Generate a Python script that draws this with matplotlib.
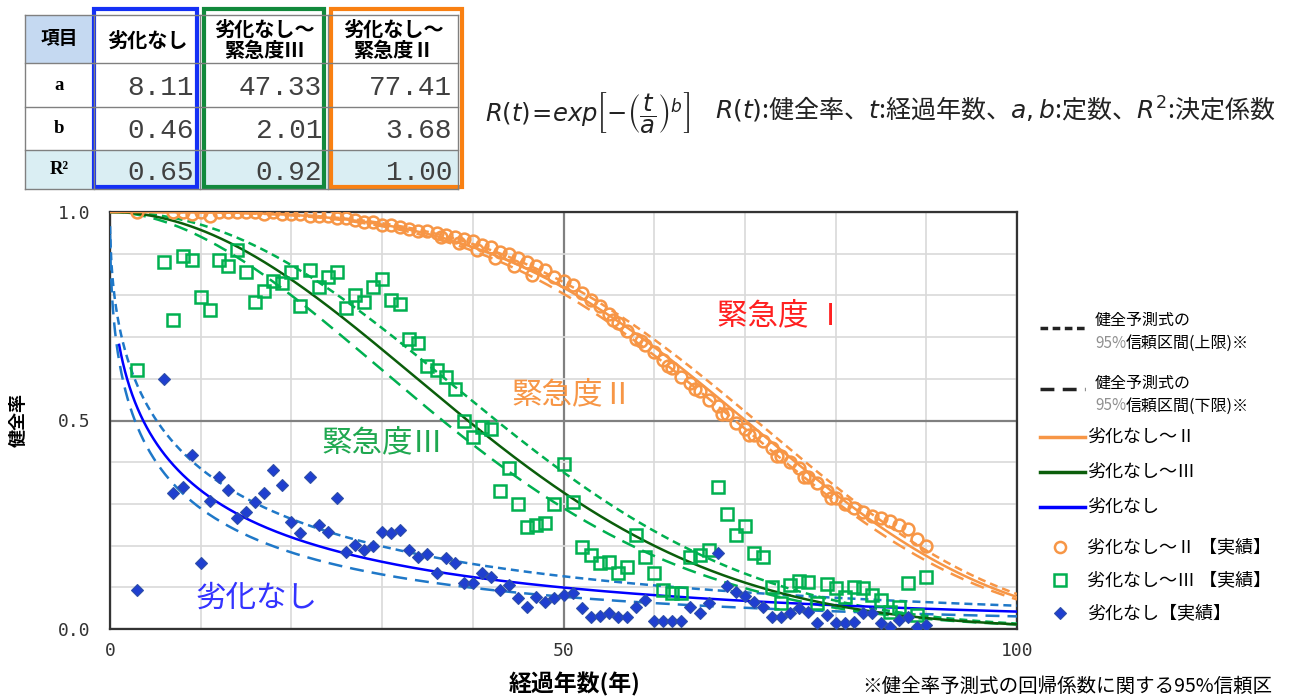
import matplotlib
matplotlib.use("Agg")
import matplotlib.pyplot as plt
from matplotlib.patches import Rectangle
import numpy as np

plt.rcParams['font.family'] = ['Noto Sans CJK JP', 'DejaVu Sans']

# Weibull fits: R(t) = exp(-(t/a)^b)
fit_names = ["劣化なし", "劣化なし～\n緊急度Ⅲ", "劣化なし～\n緊急度Ⅱ"]
fit_a = [8.11, 47.33, 77.41]
fit_b = [0.46, 2.01, 3.68]
fit_r2 = [0.65, 0.92, 1.00]

# 95% confidence limits of the fitted curves
upper_a = [11.0, 50.5, 78.5]
upper_b = [0.48, 2.15, 3.75]
lower_a = [6.19, 44.6, 76.3]
lower_b = [0.45, 1.87, 3.60]

# observed soundness ratio, 劣化なし～Ⅱ
sev2_years = [3] + list(range(7, 91)) + [36.5, 38.5, 40.5, 42.5, 44.5, 46.5, 55.5, 58.5,
                                         61.5, 64.5, 67.5, 70.5, 73.5, 76.5, 79.5]
sev2_ratio = [1.00,
              1.00, 1.00, 0.995, 1.00, 0.99, 1.00, 1.00, 1.00, 1.00, 1.00,
              0.995, 1.00, 0.995, 0.995, 0.995, 0.99, 0.99, 0.99, 0.985, 0.985,
              0.98, 0.975, 0.975, 0.97, 0.97, 0.965, 0.96, 0.955, 0.955, 0.95,
              0.945, 0.94, 0.935, 0.93, 0.92, 0.915, 0.905, 0.90, 0.89, 0.88,
              0.87, 0.86, 0.845, 0.835, 0.825, 0.805, 0.79, 0.775, 0.755, 0.735,
              0.715, 0.695, 0.68, 0.665, 0.645, 0.625, 0.605, 0.59, 0.57, 0.55,
              0.535, 0.515, 0.495, 0.48, 0.465, 0.45, 0.435, 0.415, 0.40, 0.385,
              0.365, 0.35, 0.33, 0.315, 0.30, 0.29, 0.28, 0.27, 0.265, 0.26,
              0.25, 0.24, 0.215, 0.20,
              0.94, 0.925, 0.91, 0.89, 0.87, 0.85, 0.74, 0.69,
              0.63, 0.575, 0.515, 0.465, 0.415, 0.365, 0.315]

# observed soundness ratio, 劣化なし～Ⅲ and 劣化なし
obs_years = [3] + list(range(6, 91))
sev3_ratio = [0.62,
              0.88, 0.74, 0.895, 0.885, 0.795, 0.765, 0.885, 0.87, 0.91, 0.855,
              0.785, 0.81, 0.835, 0.83, 0.855, 0.775, 0.86, 0.82, 0.845, 0.855,
              0.77, 0.80, 0.785, 0.82, 0.84, 0.79, 0.78, 0.695, 0.685, 0.63,
              0.62, 0.605, 0.575, 0.50, 0.46, 0.485, 0.48, 0.33, 0.385, 0.30,
              0.245, 0.25, 0.255, 0.30, 0.395, 0.305, 0.197, 0.178, 0.159, 0.161,
              0.135, 0.149, 0.226, 0.173, 0.135, 0.094, 0.087, 0.087, 0.173, 0.178,
              0.19, 0.341, 0.276, 0.226, 0.248, 0.183, 0.173, 0.10, 0.062, 0.106,
              0.115, 0.113, 0.062, 0.108, 0.098, 0.077, 0.10, 0.098, 0.082, 0.07,
              0.041, 0.053, 0.11, 0.034, 0.125]
none_ratio = [0.094,
              0.60, 0.327, 0.341, 0.418, 0.159, 0.308, 0.365, 0.334, 0.267, 0.281,
              0.305, 0.327, 0.382, 0.346, 0.257, 0.231, 0.365, 0.25, 0.233, 0.315,
              0.185, 0.202, 0.19, 0.20, 0.233, 0.231, 0.238, 0.19, 0.173, 0.18,
              0.135, 0.171, 0.159, 0.11, 0.11, 0.135, 0.125, 0.094, 0.106, 0.075,
              0.053, 0.077, 0.065, 0.075, 0.082, 0.087, 0.05, 0.029, 0.031, 0.038,
              0.029, 0.029, 0.053, 0.07, 0.019, 0.019, 0.019, 0.019, 0.053, 0.038,
              0.062, 0.183, 0.103, 0.089, 0.079, 0.065, 0.053, 0.029, 0.029, 0.038,
              0.05, 0.041, 0.014, 0.034, 0.014, 0.014, 0.017, 0.038, 0.038, 0.014,
              0.005, 0.022, 0.029, 0.005, 0.01]

ORANGE = '#F79646'
GREEN = '#00B050'
DKGREEN = '#0B5E0B'
BLUE = '#0000FF'
BLUE_DASH = '#1F78C8'
DIAMOND = '#1F3FD0'
line_colors = [BLUE, DKGREEN, ORANGE]
dash_colors = [BLUE_DASH, GREEN, ORANGE]
UPPER_DASH = (0, (3.2, 2.0))
LOWER_DASH = (0, (5.6, 3.2))
NUM_FONT = ['Liberation Mono', 'DejaVu Sans Mono']


def weibull(t, a, b):
    return np.exp(-(t / a) ** b)


def main() -> None:
    W, H = 1303, 698
    fig = plt.figure(figsize=(W / 100, H / 100), dpi=100)
    ax = fig.add_axes([110 / W, 1 - 629 / H, (1017 - 110) / W, (629 - 212) / H])

    t = np.linspace(0.01, 100, 2000)
    for i in range(3):
        ax.plot(t, weibull(t, upper_a[i], upper_b[i]), color=dash_colors[i],
                lw=1.8, ls=UPPER_DASH, zorder=3)
        ax.plot(t, weibull(t, lower_a[i], lower_b[i]), color=dash_colors[i],
                lw=1.8, ls=LOWER_DASH, zorder=3)
        ts = t[t >= 1] if i == 0 else np.concatenate([[0], t])
        ax.plot(ts, weibull(ts, fit_a[i], fit_b[i]), color=line_colors[i], lw=1.8, zorder=4)

    ax.plot(sev2_years, sev2_ratio, 'o', mfc='none', mec=ORANGE, mew=1.8, ms=8.5, zorder=5)
    ax.plot(obs_years, sev3_ratio, 's', mfc='none', mec=GREEN, mew=1.8, ms=8.5, zorder=5)
    ax.plot(obs_years, none_ratio, 'D', mfc=DIAMOND, mec='#2E4FA8', mew=0.8, ms=6.5, zorder=6)

    ax.set_xlim(0, 100)
    ax.set_ylim(0, 1)
    ax.set_xticks([0, 50, 100])
    ax.set_xticks(np.arange(0, 101, 10), minor=True)
    ax.set_yticks([0, 0.5, 1.0])
    ax.set_yticks(np.arange(0, 1.01, 0.1), minor=True)
    ax.set_yticklabels(["0.0", "0.5", "1.0"])
    ax.grid(which='minor', color='#D9D9D9', lw=1.2, zorder=0)
    ax.grid(which='major', color='#808080', lw=1.6, zorder=0)
    ax.set_axisbelow(True)
    ax.tick_params(which='both', length=0, labelsize=13, labelcolor='#333333')
    ax.tick_params(axis='x', pad=9)
    ax.tick_params(axis='y', pad=14)
    for lbl in ax.get_xticklabels() + ax.get_yticklabels():
        lbl.set_family(['DejaVu Sans Mono'])
    for s in ax.spines.values():
        s.set_linewidth(1.6)
        s.set_color('#333333')

    ax.text(74, 0.752, "緊急度 Ⅰ", color='#FF2020', fontsize=22, ha='center', va='center', zorder=7)
    ax.text(51, 0.5625, "緊急度Ⅱ", color=ORANGE, fontsize=22, ha='center', va='center', zorder=7)
    ax.text(30, 0.447, "緊急度Ⅲ", color='#1FA850', fontsize=22, ha='center', va='center', zorder=7)
    ax.text(16.2, 0.075, "劣化なし", color='#3333FF', fontsize=22, ha='center', va='center', zorder=7)

    fig.text(18 / W, 1 - 420 / H, "健全率", rotation=90, fontsize=13, fontweight='bold',
             ha='center', va='center')
    fig.text(575 / W, 1 - 684 / H, "経過年数(年)", fontsize=16.5, fontweight='bold',
             ha='center', va='center')
    fig.text(862 / W, 1 - 686 / H, "※健全率予測式の回帰係数に関する95%信頼区", fontsize=14,
             ha='left', va='center')

    # overlay in pixel units for the parameter table and the legend
    ov = fig.add_axes([0, 0, 1, 1], zorder=10)
    ov.set_xlim(0, W)
    ov.set_ylim(H, 0)
    ov.axis('off')
    ov.patch.set_alpha(0)

    col_x = [25, 94, 200, 328, 458]
    row_y = [15, 63, 107, 150, 189]
    ov.add_patch(Rectangle((col_x[0], row_y[0]), col_x[1] - col_x[0], row_y[1] - row_y[0],
                           facecolor='#C5D9F1', edgecolor='none'))
    ov.add_patch(Rectangle((col_x[0], row_y[3]), col_x[-1] - col_x[0], row_y[4] - row_y[3],
                           facecolor='#DAEEF3', edgecolor='none'))
    for x in col_x:
        ov.plot([x, x], [row_y[0], row_y[-1]], color='#808080', lw=1)
    for y in row_y:
        ov.plot([col_x[0], col_x[-1]], [y, y], color='#808080', lw=1)

    ov.text((col_x[0] + col_x[1]) / 2, (row_y[0] + row_y[1]) / 2, "項目",
            fontsize=13.5, fontweight='bold', ha='center', va='center')
    row_names = ["a", "b", "R²"]
    for r, name in enumerate(row_names):
        ov.text((col_x[0] + col_x[1]) / 2, (row_y[r + 1] + row_y[r + 2]) / 2, name,
                fontsize=13.5, fontweight='bold', ha='center', va='center',
                family=['Liberation Serif', 'DejaVu Serif'])
    for c in range(3):
        cx = (col_x[c + 1] + col_x[c + 2]) / 2
        ov.text(cx, (row_y[0] + row_y[1]) / 2 + 1, fit_names[c], fontsize=14.5,
                fontweight='bold', ha='center', va='center', linespacing=1.0)
        for r, v in enumerate([fit_a[c], fit_b[c], fit_r2[c]]):
            ov.text(col_x[c + 2] - 6, (row_y[r + 1] + row_y[r + 2]) / 2 + 3, f"{v:.2f}",
                    fontsize=20, ha='right', va='center', color='#404040',
                    family=NUM_FONT)

    box_colors = ['#1430F5', '#12893C', '#F98012']
    box_x = [(94, 197), (204, 324), (331, 462)]
    for (x0, x1), bc in zip(box_x, box_colors):
        ov.add_patch(Rectangle((x0, 9), x1 - x0, 178, fill=False, edgecolor=bc, lw=3))

    ov.text(485, 112, r"$R(t)\!=\!exp\left[-\left(\dfrac{t}{a}\right)^{b}\right]$",
            fontsize=17.5, ha='left', va='center', color='#222222')
    ov.text(715, 110, r"$R(t)$:健全率、$t$:経過年数、$a,b$:定数、$R^2$:決定係数",
            fontsize=18, ha='left', va='center', color='#222222')

    # legend
    lx0, lx1 = 1040, 1085
    ov.plot([lx0, lx1], [328, 328], color='#222222', lw=2.5, ls=(0, (2.2, 1.3)))
    ov.plot([lx0, lx1], [389, 389], color='#222222', lw=2.5, ls=(0, (4.0, 2.4)))
    for y0, kind in [(320, "上限"), (383, "下限")]:
        ov.text(1095, y0, "健全予測式の", fontsize=11.5, ha='left', va='center')
        t95 = ov.text(1095, y0 + 23, "95%", fontsize=11, ha='left', va='center', color='#909090')
        ov.annotate(f"信頼区間({kind})※", xy=(1, 0.5), xycoords=t95, fontsize=11.5,
                    ha='left', va='center')

    for y0, col, label in [(437, ORANGE, "劣化なし～Ⅱ"), (472, DKGREEN, "劣化なし～Ⅲ"),
                           (507, BLUE, "劣化なし")]:
        ov.plot([lx0, lx1], [y0, y0], color=col, lw=2.5)
        ov.text(1087, y0, label, fontsize=13, ha='left', va='center')

    ov.plot([1060], [547], 'o', mfc='none', mec=ORANGE, mew=1.8, ms=8)
    ov.text(1087, 547, "劣化なし～Ⅱ 【実績】", fontsize=13, ha='left', va='center')
    ov.plot([1060], [580], 's', mfc='none', mec=GREEN, mew=1.8, ms=8)
    ov.text(1087, 580, "劣化なし～Ⅲ 【実績】", fontsize=13, ha='left', va='center')
    ov.plot([1060], [613], 'D', mfc=DIAMOND, mec='#2E4FA8', mew=0.8, ms=6)
    ov.text(1087, 613, "劣化なし【実績】", fontsize=13, ha='left', va='center')

    fig.savefig("out.png", dpi=100)


if __name__ == "__main__":
    main()
